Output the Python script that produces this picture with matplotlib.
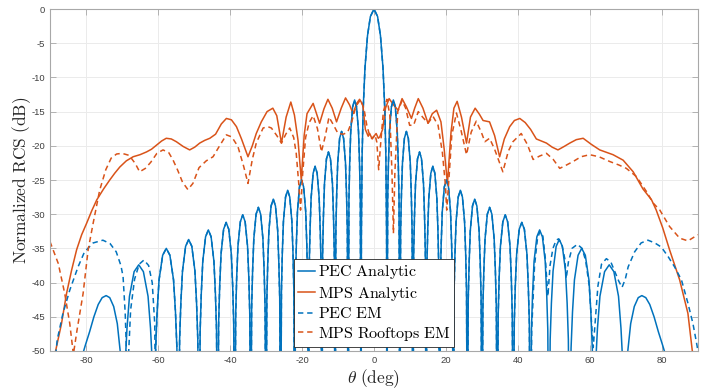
import numpy as np
import matplotlib
matplotlib.use('Agg')
import matplotlib.pyplot as plt

# ---- data (theta in deg, normalized RCS in dB) ----

# PEC analytic, positive half (the pattern is symmetric), nulls put at -70 dB
pec_pos_theta = [
    0.0, 1.0, 1.8, 2.5, 3.0, 3.3, 3.5, 3.58,
    3.80, 4.01, 4.30, 4.84, 5.38, 5.92, 6.46, 6.75, 6.96, 7.18,
    7.40, 7.62, 7.91, 8.45, 9.00, 9.54, 10.08, 10.37, 10.59, 10.81,
    11.03, 11.25, 11.54, 12.09, 12.65, 13.20, 13.75, 14.04, 14.26, 14.48,
    14.70, 14.93, 15.23, 15.79, 16.35, 16.90, 17.46, 17.76, 17.99, 18.21,
    18.44, 18.67, 18.97, 19.54, 20.12, 20.69, 21.26, 21.56, 21.79, 22.02,
    22.26, 22.49, 22.80, 23.39, 23.98, 24.57, 25.16, 25.47, 25.70, 25.94,
    26.18, 26.43, 26.75, 27.36, 27.97, 28.58, 29.19, 29.51, 29.76, 30.00,
    30.25, 30.51, 30.85, 31.48, 32.12, 32.75, 33.38, 33.72, 33.98, 34.23,
    34.50, 34.76, 35.12, 35.79, 36.46, 37.12, 37.79, 38.15, 38.41, 38.68,
    38.97, 39.25, 39.63, 40.34, 41.06, 41.77, 42.48, 42.86, 43.15, 43.43,
    43.74, 44.05, 44.46, 45.24, 46.01, 46.78, 47.56, 47.97, 48.28, 48.59,
    48.94, 49.28, 49.74, 50.60, 51.47, 52.33, 53.19, 53.65, 53.99, 54.34,
    54.74, 55.14, 55.68, 56.69, 57.69, 58.70, 59.70, 60.24, 60.64, 61.04,
    61.56, 62.07, 62.76, 64.05, 65.34, 66.63, 67.92, 68.61, 69.12, 69.64,
    70.0, 70.5, 71.3, 72.3, 73.4, 74.4, 75.5, 76.6, 77.8, 79.0, 80.2, 81.5, 84.0, 87.0, 90.0]
pec_pos_db = [
    0.0, -1.1, -3.9, -8.6, -14.6, -21.5, -33.0, -70,
    -27.9, -22.6, -17.9, -14.3, -13.3, -14.3, -17.9, -22.6, -27.9, -70,
    -32.5, -27.2, -22.5, -18.9, -17.9, -18.9, -22.5, -27.2, -32.5, -70,
    -35.5, -30.2, -25.5, -21.9, -20.9, -21.9, -25.5, -30.2, -35.5, -70,
    -37.6, -32.3, -27.6, -24.0, -23.0, -24.0, -27.6, -32.3, -37.6, -70,
    -39.6, -34.3, -29.6, -26.0, -25.0, -26.0, -29.6, -34.3, -39.6, -70,
    -41.1, -35.8, -31.1, -27.5, -26.5, -27.5, -31.1, -35.8, -41.1, -70,
    -42.4, -37.1, -32.4, -28.8, -27.8, -28.8, -32.4, -37.1, -42.4, -70,
    -43.6, -38.3, -33.6, -30.0, -29.0, -30.0, -33.6, -38.3, -43.6, -70,
    -44.7, -39.4, -34.7, -31.1, -30.1, -31.1, -34.7, -39.4, -44.7, -70,
    -45.8, -40.5, -35.8, -32.2, -31.2, -32.2, -35.8, -40.5, -45.8, -70,
    -46.9, -41.6, -36.9, -33.3, -32.3, -33.3, -36.9, -41.6, -46.9, -70,
    -48.3, -43.0, -38.3, -34.7, -33.7, -34.7, -38.3, -43.0, -48.3, -70,
    -49.6, -44.3, -39.6, -36.0, -35.0, -36.0, -39.6, -44.3, -49.6, -70,
    -52.0, -46.7, -42.0, -38.4, -37.4, -38.4, -42.0, -46.7, -52.0, -70,
    -56, -50, -46, -43.5, -42.2, -41.9, -42.2, -43.2, -45, -47.2, -49.2, -51.5, -57, -65, -80]

# PEC EM: same as analytic in the middle, own tails at the edges
pec_em_left_theta = [-90.0, -88.3, -88.0, -86.4, -84.5, -82.2, -80.4, -78.0, -75.3, -73.3,
                     -71.6, -70.3, -69.7, -69.1, -68.8, -68.6, -68.3, -67.6, -66.5, -65.2,
                     -63.9, -62.6, -61.6, -60.9, -60.5]
pec_em_left_db = [-56, -50.0, -48.4, -44.5, -41.1, -37.7, -35.5, -34.2, -33.8, -34.3,
                  -35.5, -37.5, -39.1, -44.5, -49.4, -70, -52, -44, -39.5, -37.3,
                  -36.7, -37.5, -40.0, -46.0, -70]
pec_em_right_theta = [43.8, 44.6, 45.4, 46.1, 46.9, 47.6, 48.3, 48.9, 49.7, 50.6,
                      51.3, 52.2, 53.0, 53.4, 54.0, 55.0, 56.5, 57.8, 58.8, 59.8,
                      60.5, 60.9, 61.4, 62.2, 63.2, 64.55, 65.8, 66.9, 68.0, 68.9,
                      69.8, 70.6, 72.4, 74.2, 76.1, 78.0, 79.8, 81.7, 83.5, 85.4,
                      87.2, 88.6, 89.8, 90.0]
pec_em_right_db = [-47, -37.5, -33.6, -32.5, -33.2, -36.5, -42.0, -37.5, -35.0, -33.8,
                   -33.6, -34.5, -36.5, -39.4, -37.0, -35.0, -34.4, -35.0, -36.8, -40.5,
                   -46.5, -49.5, -46.0, -40.5, -37.3, -36.5, -37.0, -38.4, -39.8, -40.7,
                   -39.5, -37.7, -35.5, -34.2, -33.8, -34.2, -34.8, -36.2, -37.7, -39.6,
                   -43.0, -46.0, -49.4, -51]

# MPS analytic
mps_theta = [
    -90.0, -88.4, -86.8, -85.4, -84.0, -82.6, -81.2, -79.8, -78.4, -77.0,
    -75.1, -73.4, -72.0, -70.6, -68.8, -66.9, -65.0, -63.2, -61.8, -60.4,
    -59.0, -57.7, -56.3, -54.9, -53.0, -51.2, -49.8, -48.4, -47.0, -45.6,
    -44.0, -42.4, -41.0, -39.6, -38.2, -36.8, -35.0, -33.8, -32.7, -31.3,
    -29.7, -28.1, -27.0, -25.7, -24.4, -23.1, -22.1, -21.1, -20.2, -19.4,
    -18.6, -16.9, -15.1, -13.9, -12.8, -11.6, -10.4, -9.1, -7.9, -6.8,
    -5.8, -4.8, -4.0, -3.1, -2.4, -1.6, -1.2, -0.6, 0.0, 0.6,
    1.2, 1.6, 2.4, 3.2, 4.2, 5.4, 6.7, 7.8, 9.0, 10.4,
    11.3, 12.3, 13.6, 15.0, 16.2, 17.4, 18.6, 19.5, 20.4, 21.4,
    22.2, 23.1, 24.3, 25.7, 26.8, 28.1, 29.3, 30.3, 32.1, 33.5,
    34.9, 36.2, 37.7, 39.0, 40.5, 42.0, 43.5, 45.1, 47.9, 49.5,
    51.1, 52.8, 54.4, 56.2, 58.1, 60.4, 62.7, 66.4, 69.2, 72.0,
    74.7, 77.1, 78.4, 80.2, 82.1, 84.9, 87.2, 88.4, 90.0]
mps_db = [
    -54.0, -49.9, -46.0, -41.6, -38.2, -35.2, -33.0, -31.3, -29.5, -27.9,
    -26.3, -25.0, -24.0, -23.1, -22.2, -21.6, -21.3, -20.9, -20.5, -19.9,
    -19.3, -18.9, -19.0, -19.4, -20.1, -20.6, -20.2, -19.6, -19.2, -18.9,
    -18.3, -16.8, -16.0, -16.2, -17.2, -19.0, -21.6, -20.0, -18.2, -16.5,
    -15.0, -14.5, -15.6, -19.6, -15.8, -13.6, -15.5, -19.2, -25.0, -18.5,
    -15.3, -13.8, -16.7, -14.6, -13.2, -14.5, -16.5, -14.5, -13.0, -14.0,
    -15.3, -13.8, -13.2, -14.0, -17.6, -18.6, -18.2, -18.9, -18.6, -18.2,
    -18.9, -18.7, -17.6, -14.5, -13.1, -14.0, -14.8, -13.1, -14.3, -16.0,
    -14.5, -13.1, -14.5, -16.7, -15.3, -14.8, -16.5, -20.5, -25.5, -18.0,
    -14.5, -13.5, -15.8, -19.6, -15.8, -14.5, -15.4, -16.3, -16.5, -18.5,
    -21.6, -19.0, -17.2, -16.3, -16.0, -16.6, -17.6, -19.0, -19.6, -20.2,
    -20.6, -20.1, -19.6, -19.1, -18.9, -19.8, -20.6, -21.3, -22.1, -23.8,
    -26.3, -27.9, -29.4, -32.0, -35.2, -39.6, -44.5, -49.9, -54.0]

# MPS rooftops EM
roof_theta = [
    -90.0, -87.7, -85.9, -84.5, -83.5, -82.5, -80.8, -79.4, -78.0, -76.2,
    -74.5, -73.0, -71.5, -70.0, -68.0, -66.3, -65.1, -63.5, -62.0, -60.3,
    -58.6, -57.0, -55.8, -54.5, -53.2, -51.7, -50.3, -48.6, -46.6, -44.7,
    -43.0, -41.0, -39.5, -37.8, -36.2, -35.0, -33.8, -32.7, -30.8, -29.5,
    -28.5, -27.0, -25.7, -24.5, -23.4, -22.3, -21.6, -20.9, -20.4, -19.8,
    -19.0, -18.0, -16.9, -15.7, -14.6, -13.5, -12.5, -11.2, -10.0, -8.5,
    -7.3, -6.2, -5.0, -3.8, -2.8, -2.0, -1.2, -0.5, 0.3, 0.8,
    1.3, 1.8, 2.6, 3.6, 4.4, 5.0, 5.4, 5.8, 6.6, 7.8,
    8.8, 9.9, 11.0, 12.3, 13.5, 15.0, 16.4, 17.8, 19.0, 19.8,
    20.2, 20.8, 21.6, 22.9, 24.2, 25.7, 27.0, 28.4, 29.8, 30.8,
    32.1, 33.5, 35.8, 37.3, 38.6, 40.9, 42.6, 44.2, 46.0, 47.9,
    49.8, 51.6, 53.5, 55.3, 57.5, 59.9, 62.5, 65.5, 68.0, 70.1,
    72.9, 75.7, 77.6, 79.4, 82.1, 84.9, 87.2, 90.0]
roof_db = [
    -34.0, -37.2, -41.6, -46.0, -50.5, -47.0, -41.6, -35.2, -31.3, -26.5,
    -23.5, -21.8, -21.2, -21.1, -21.4, -22.6, -23.8, -23.3, -22.4, -21.1,
    -20.6, -21.0, -22.1, -23.6, -25.3, -26.4, -25.5, -23.2, -22.2, -21.6,
    -20.1, -18.4, -18.7, -20.1, -23.0, -25.5, -22.0, -19.6, -17.4, -17.2,
    -17.4, -18.5, -19.6, -18.3, -17.4, -18.8, -21.1, -25.5, -29.4, -24.0,
    -18.8, -16.6, -15.6, -17.5, -20.9, -18.5, -15.8, -17.0, -18.2, -18.3,
    -18.0, -16.5, -14.2, -13.3, -14.5, -17.0, -18.5, -19.0, -18.4, -19.5,
    -23.5, -20.0, -15.0, -13.2, -15.5, -24.0, -32.8, -24.0, -15.0, -13.4,
    -14.5, -17.0, -17.0, -15.0, -15.8, -16.7, -15.7, -17.0, -21.0, -25.5,
    -29.4, -25.0, -18.5, -15.2, -17.8, -21.3, -18.0, -16.4, -18.0, -19.4,
    -18.9, -20.5, -23.8, -20.8, -19.4, -18.2, -19.8, -22.0, -21.5, -21.1,
    -22.0, -23.3, -22.8, -22.3, -21.6, -21.3, -21.6, -22.3, -22.8, -23.3,
    -24.5, -26.7, -28.4, -29.4, -31.8, -33.5, -33.9, -33.0]

series_labels = ['PEC Analytic', 'MPS Analytic', 'PEC EM', 'MPS Rooftops EM']

# ---- build full PEC curves ----
pec_pos_theta = np.array(pec_pos_theta)
pec_pos_db = np.array(pec_pos_db)
pec_theta = np.concatenate([-pec_pos_theta[:0:-1], pec_pos_theta])
pec_db = np.concatenate([pec_pos_db[:0:-1], pec_pos_db])

mid = (pec_theta >= -61.04) & (pec_theta <= 43.43)
pec_em_theta = np.concatenate([pec_em_left_theta, pec_theta[mid], pec_em_right_theta])
pec_em_db = np.concatenate([pec_em_left_db, pec_db[mid], pec_em_right_db])

# ---- plot ----
plt.rcParams['mathtext.fontset'] = 'cm'
plt.rcParams['axes.unicode_minus'] = False
plt.rcParams['font.family'] = ['Liberation Sans', 'DejaVu Sans']

blue = '#0072BD'
orange = '#D95319'

fig = plt.figure(figsize=(7.17, 3.9), dpi=100)
ax = fig.add_axes([0.0697, 0.1, 0.9038, 0.8769])

lw = 1.1
ax.plot(pec_theta, pec_db, color=blue, lw=lw, label=series_labels[0])
ax.plot(mps_theta, mps_db, color=orange, lw=lw, label=series_labels[1])
ax.plot(pec_em_theta, pec_em_db, color=blue, lw=lw, dashes=(3.5, 2.5), label=series_labels[2])
ax.plot(roof_theta, roof_db, color=orange, lw=lw, dashes=(3.5, 2.5), label=series_labels[3])

ax.set_xlim(-90, 90)
ax.set_ylim(-50, 0)
ax.set_xticks(np.arange(-80, 81, 20))
ax.set_yticks(np.arange(-50, 1, 5))
ax.grid(True, color='#ebebeb', lw=0.7)
ax.set_axisbelow(True)

ax.tick_params(direction='in', length=4, width=0.6, colors='#a8a8a8',
               labelcolor='#404040', labelsize=6.8, top=True, right=True)
for s in ax.spines.values():
    s.set_color('#a8a8a8')
    s.set_linewidth(0.8)

ax.set_ylabel(r'$\mathrm{Normalized\ RCS\ (dB)}$', fontsize=12.5, color='#262626', labelpad=-1)
ax.set_xlabel(r'$\theta\ \mathrm{(deg)}$', fontsize=12.5, color='#262626', labelpad=2)

handles, labels = ax.get_legend_handles_labels()
leg = ax.legend(handles, [r'$\mathrm{' + l.replace(' ', r'\ ') + '}$' for l in labels],
                loc='lower center', bbox_to_anchor=(0.5, 0.012), fontsize=11.5,
                fancybox=False, framealpha=1, edgecolor='#262626',
                handlelength=1.1, handletextpad=0.15, labelspacing=0.22,
                borderpad=0.25, borderaxespad=0.0)
leg.get_frame().set_linewidth(0.6)

plt.savefig('out.png', dpi=100)
plt.close()
